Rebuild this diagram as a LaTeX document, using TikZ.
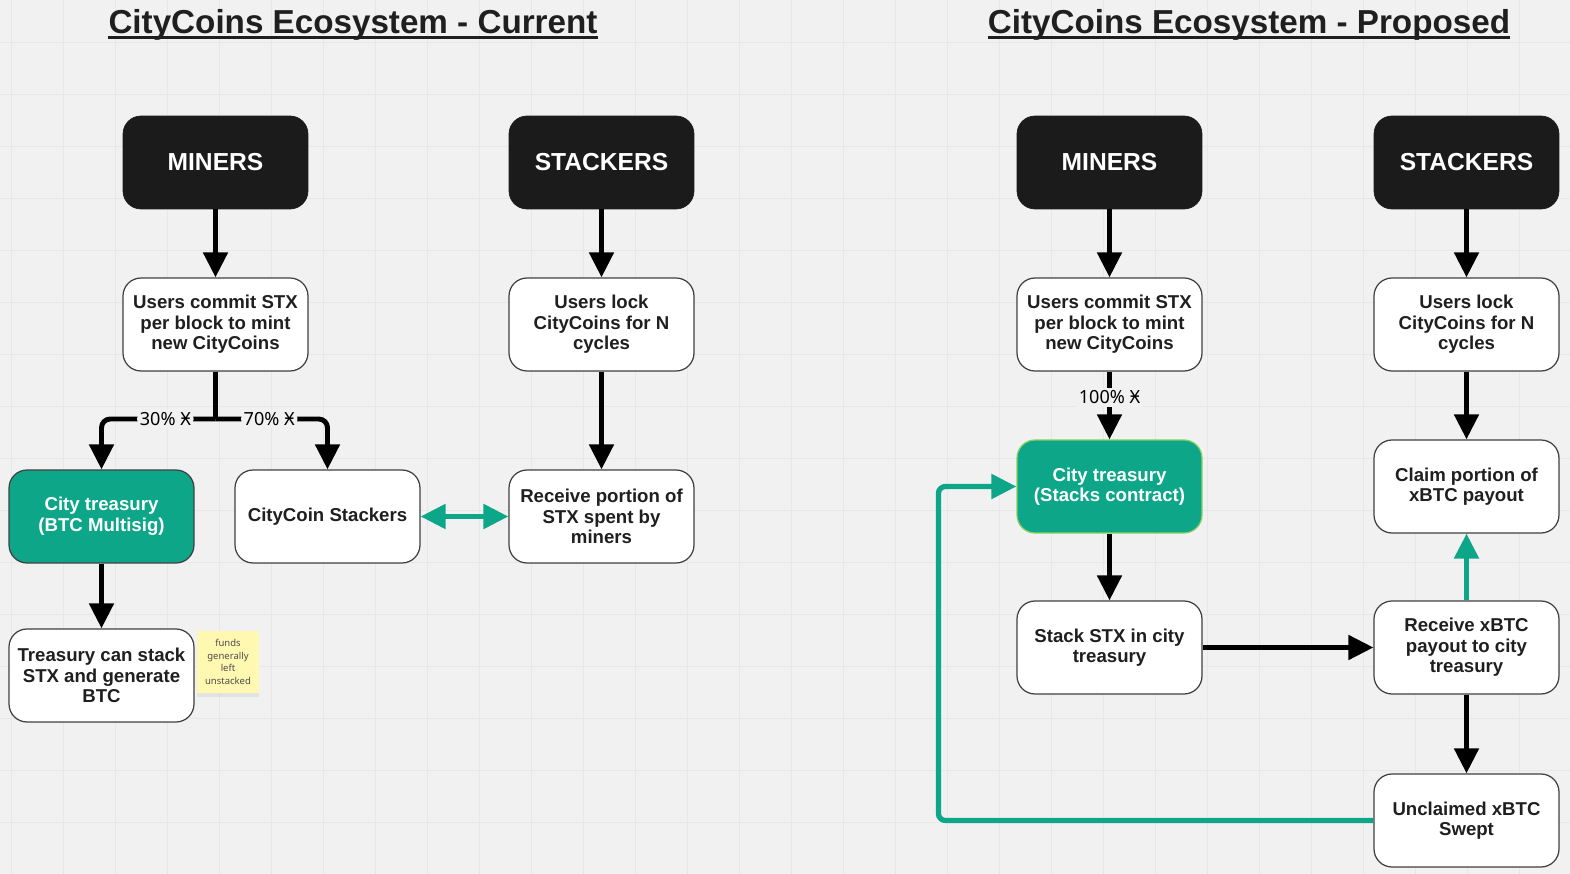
\documentclass[tikz,border=0pt]{standalone}
\usepackage{fontspec}
\setmainfont{Liberation Sans}
\newfontfamily\labelfont{Noto Sans}
\usetikzlibrary{arrows.meta,shadows}
\definecolor{boardgray}{HTML}{F1F1F1}
\definecolor{gridgray}{HTML}{E7E7E7}
\definecolor{blockblack}{HTML}{1B1B1B}
\definecolor{citygreen}{HTML}{0DA688}
\definecolor{greenedge}{HTML}{86CF62}
\definecolor{notecolor}{HTML}{FFF8B0}

\begin{document}
\begin{tikzpicture}[x=0.02cm, y=-0.02cm,
  role/.style={fill=blockblack, draw=blockblack, rounded corners=0.36cm, minimum width=3.7cm, minimum height=1.86cm, text=white, font=\bfseries\fontsize{14}{16}\selectfont},
  stepbox/.style={fill=white, draw=black!75, line width=0.7pt, rounded corners=0.36cm, minimum width=3.7cm, minimum height=1.86cm, align=center, text=black!88, font=\bfseries\fontsize{10.6}{11.7}\selectfont},
  treasury/.style={stepbox, fill=citygreen, text=white},
  flow/.style={line width=2.8pt, -{Triangle[length=0.5cm, width=0.48cm]}},
  greenflow/.style={flow, draw=citygreen, line width=3pt},
  pct/.style={fill=boardgray, inner sep=1.5pt, font=\labelfont\fontsize{10.3}{12}\selectfont},
  heading/.style={inner sep=0pt, text=black!88, font=\bfseries\fontsize{18.9}{22}\selectfont},
  memo/.style={fill=notecolor, minimum size=1.24cm, inner sep=0pt, align=center, text=black!70, font=\labelfont\fontsize{5.4}{7.2}\selectfont, drop shadow={opacity=0.12, shadow xshift=0pt, shadow yshift=-2pt}}]

% board
\useasboundingbox (0,0) rectangle (1570,874);
\fill[boardgray] (0,0) rectangle (1570,874);
\foreach \gx in {11,63,...,1570} \draw[gridgray, line width=0.5pt] (\gx,0) -- (\gx,874);
\foreach \gy in {42,94,...,874} \draw[gridgray, line width=0.5pt] (0,\gy) -- (1570,\gy);

% titles
\node[heading] (titleL) at (353,25) {CityCoins Ecosystem - Current};
\node[heading] (titleR) at (1249,25) {CityCoins Ecosystem - Proposed};
\draw[black!88, line width=1.3pt] ([yshift=-2.2pt]titleL.base west) to ([yshift=-2.2pt]titleL.base east);
\draw[black!88, line width=1.3pt] ([yshift=-2.2pt]titleR.base west) to ([yshift=-2.2pt]titleR.base east);

% current
\node[role] (minersL) at (215.5,162.5) {MINERS};
\node[role] (stackersL) at (601.5,162.5) {STACKERS};
\node[stepbox] (commitL) at (215.5,324.5) {Users commit STX\\per block to mint\\new CityCoins};
\node[stepbox] (lockL) at (601.5,324.5) {Users lock\\CityCoins for N\\cycles};
\node[treasury] (multisig) at (101.5,516.5) {City treasury\\(BTC Multisig)};
\node[stepbox] (ccstackers) at (327.5,516.5) {CityCoin Stackers};
\node[stepbox] (receiveL) at (601.5,516.5) {Receive portion of\\STX spent by\\miners};
\node[stepbox] (canstack) at (101.5,675.5) {Treasury can stack\\STX and generate\\BTC};
\node[memo] (note) at (228,662) {funds\\generally\\left\\unstacked};
\coordinate (split) at (215.5,419);

\draw[flow] (minersL) to (commitL);
\draw[flow] (stackersL) to (lockL);
\draw[line width=2.8pt] (commitL.south) to (split);
\draw[flow, rounded corners=5pt] (split) -| node[pct, pos=0.22] {30\% Ӿ} (multisig.north);
\draw[flow, rounded corners=5pt] (split) -| node[pct, pos=0.24] {70\% Ӿ} (ccstackers.north);
\draw[flow] (lockL) to (receiveL);
\draw[greenflow, {Triangle[length=0.5cm, width=0.48cm]}-{Triangle[length=0.5cm, width=0.48cm]}] (ccstackers) to (receiveL);
\draw[flow] (multisig) to (canstack);

% proposed
\node[role] (minersR) at (1109.5,162.5) {MINERS};
\node[role] (stackersR) at (1466.5,162.5) {STACKERS};
\node[stepbox] (commitR) at (1109.5,324.5) {Users commit STX\\per block to mint\\new CityCoins};
\node[stepbox] (lockR) at (1466.5,324.5) {Users lock\\CityCoins for N\\cycles};
\node[treasury, draw=greenedge] (contract) at (1109.5,486.5) {City treasury\\(Stacks contract)};
\node[stepbox] (claim) at (1466.5,486.5) {Claim portion of\\xBTC payout};
\node[stepbox] (stackcity) at (1109.5,647.5) {Stack STX in city\\treasury};
\node[stepbox] (payout) at (1466.5,647.5) {Receive xBTC\\payout to city\\treasury};
\node[stepbox] (swept) at (1466.5,820.5) {Unclaimed xBTC\\Swept};

\draw[flow] (minersR) to (commitR);
\draw[flow] (stackersR) to (lockR);
\draw[flow] (commitR) to node[pct, pos=0.38] {100\% Ӿ} (contract);
\draw[flow] (lockR) to (claim);
\draw[flow] (contract) to (stackcity);
\draw[flow] (stackcity) to (payout);
\draw[greenflow] (payout) to (claim);
\draw[flow] (payout) to (swept);
\draw[greenflow, rounded corners=4pt] (swept.west) -- ++(-435,0) |- (contract.west);
\end{tikzpicture}
\end{document}
